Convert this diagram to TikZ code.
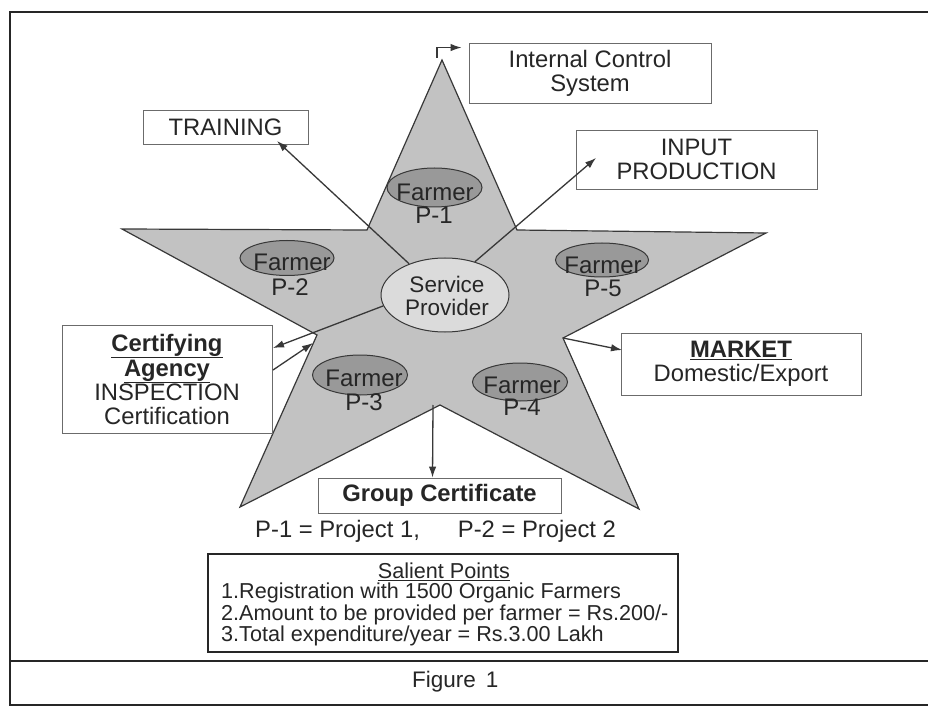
\documentclass[tikz,border=0pt]{standalone}
\usepackage{fontspec}
\setmainfont{Liberation Sans}
\usetikzlibrary{shapes.geometric,arrows.meta}

\definecolor{ink}{gray}{0.15}
\definecolor{linegray}{gray}{0.22}
\definecolor{boxline}{gray}{0.42}
\definecolor{starfill}{gray}{0.76}
\definecolor{farmerfill}{gray}{0.60}
\definecolor{spfill}{gray}{0.86}

\tikzset{
  frameline/.style={draw=ink, line width=1.8pt},
  starshape/.style={draw=linegray, line width=1.2pt, fill=starfill},
  infobox/.style={draw=boxline, line width=0.9pt, rectangle, inner sep=0pt,
                  text=ink, align=center, font=\fontsize{23.8}{24}\selectfont},
  farmer/.style={ellipse, draw=linegray, line width=1pt, fill=farmerfill, inner sep=0pt},
  farmertext/.style={inner sep=0pt, text=ink, font=\fontsize{24}{24}\selectfont},
  plain/.style={inner sep=0pt, text=ink, font=\fontsize{23.8}{24}\selectfont},
  arr/.style={draw=linegray, line width=1.3pt, -{Latex[length=11pt,width=7.5pt]}},
}

\begin{document}
\begin{tikzpicture}[x=1pt,y=-1pt]
\useasboundingbox (0,0) rectangle (928,708);
\fill[white] (0,0) rectangle (928,708);

% page frame
\draw[frameline] (928,12) -- (10,12) -- (10,705) -- (928,705);
\draw[frameline] (10,661) -- (928,661);

% five-pointed star
\coordinate (top)   at (442,60);
\coordinate (iTR)   at (517,230);
\coordinate (right) at (766,233);
\coordinate (iR)    at (563,338);
\coordinate (BR)    at (639,509);
\coordinate (iB)    at (440,405);
\coordinate (BL)    at (240,507);
\coordinate (iL)    at (317,335);
\coordinate (left)  at (122,229);
\coordinate (iTL)   at (367,230);
\path[starshape] (top) -- (iTR) -- (right) -- (iR) -- (BR) -- (iB)
  -- (BL) -- (iL) -- (left) -- (iTL) -- cycle;

% surrounding boxes
\node[infobox, minimum width=165, minimum height=34] (training) at (225.5,127) {TRAINING};
\node[infobox, minimum width=242, minimum height=60] (ics) at (590,73) {Internal Control\\System};
\node[infobox, minimum width=241, minimum height=59] (input) at (696.5,159.5) {INPUT\\PRODUCTION};
\node[infobox, minimum width=210, minimum height=108] (cert) at (167,379)
  {\underline{\textbf{Certifying}}\\[1pt]\underline{\textbf{Agency}}\\INSPECTION\\Certification};
\node[infobox, minimum width=240, minimum height=62] (market) at (741,364)
  {\underline{\textbf{MARKET}}\\Domestic/Export};
\node[infobox, minimum width=243, minimum height=35] (gc) at (439.5,495.5)
  {\textbf{Group Certificate}};

% service provider in the middle
\node[ellipse, draw=linegray, line width=1pt, fill=spfill, inner sep=0pt,
      minimum width=128, minimum height=74] (sp) at (445,295) {};
\node[plain, align=center, font=\fontsize{22.5}{22.5}\selectfont] (sptext) at (447,296)
  {Service\\Provider};

% arrow ends
\coordinate (trainTip) at (277,141);
\coordinate (inTip)    at (596,158);
\coordinate (certTip)  at (273,348);
\coordinate (certOut)  at (273,370);
\coordinate (starTip)  at (313,343);
\coordinate (mktTip)   at (622,350);

% connectors
\draw[arr] (sp.139) -- (trainTip);
\draw[arr] (sp.48) -- (inTip);
\draw[arr] (sp.190) -- (certTip);
\draw[arr] (certOut) -- (starTip);
\draw[arr] (iR) -- (mktTip);
\draw[arr] ([xshift=-7pt]iB) -- ([xshift=-7pt]gc.north);
\draw[arr] ([xshift=-5pt,yshift=2pt]top) |- ([xshift=-7pt,yshift=-5pt]ics.north west);

% farmers
\node[farmer, minimum width=95, minimum height=39] (f1) at (434.5,187.5) {};
\node[farmer, minimum width=94, minimum height=35] (f2) at (287,258) {};
\node[farmer, minimum width=93, minimum height=34] (f5) at (602,260) {};
\node[farmer, minimum width=95, minimum height=40] (f3) at (360,375) {};
\node[farmer, minimum width=95, minimum height=38] (f4) at (520,382) {};

\node[farmertext] (f1a) at (435,192) {Farmer};
\node[farmertext] (f1b) at (434,215) {P-1};
\node[farmertext] (f2a) at (292,262) {Farmer};
\node[farmertext] (f2b) at (290,287) {P-2};
\node[farmertext] (f5a) at (603,265) {Farmer};
\node[farmertext] (f5b) at (603,288) {P-5};
\node[farmertext] (f3a) at (364,378) {Farmer};
\node[farmertext] (f3b) at (364,402) {P-3};
\node[farmertext] (f4a) at (522,385) {Farmer};
\node[farmertext] (f4b) at (522,407) {P-4};

% legend line
\node[plain, anchor=west] (legend) at (255,531)
  {P-1 = Project 1,\hspace{38pt}P-2 = Project 2};

% salient points
\node[draw=ink, line width=1.8pt, rectangle, inner sep=0pt,
      minimum width=470, minimum height=98] (salient) at (443,603) {};
\node[plain, font=\fontsize{21.6}{21.5}\selectfont] (salhead) at (444,572)
  {\underline{Salient Points}};
\node[plain, anchor=west, align=left, font=\fontsize{21.6}{21.5}\selectfont] (sallist) at (221,614.5)
  {1.Registration with 1500 Organic Farmers\\
   2.Amount to be provided per farmer = Rs.200/-\\
   3.Total expenditure/year = Rs.3.00 Lakh};

% caption
\node[plain, anchor=west, font=\fontsize{22.5}{24}\selectfont] (figlbl) at (412,682)
  {Figure\hspace{10pt}1};
\end{tikzpicture}
\end{document}
